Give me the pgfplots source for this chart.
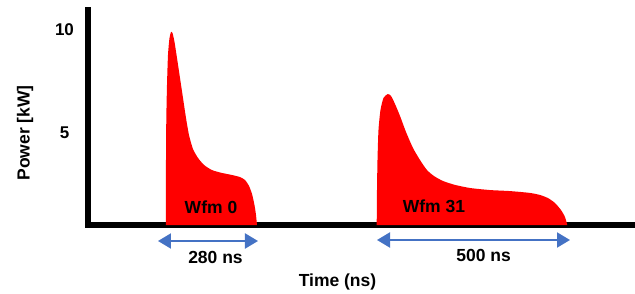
\documentclass[border=0pt]{standalone}
\usepackage{pgfplots}
\pgfplotsset{compat=1.18}
\usepackage{fontspec}
\setmainfont{Liberation Sans}
\usetikzlibrary{arrows.meta}
\definecolor{arrowblue}{HTML}{4472C4}
\begin{document}
\begin{tikzpicture}
\begin{axis}[
  x=1pt, y=20.6pt,
  xmin=88, xmax=632, ymin=0.53, ymax=10.97,
  axis x line=bottom, axis y line=left,
  axis line style={-, line width=5.7pt, line cap=rect, black},
  xtick=\empty,
  ytick={5,10}, yticklabels={5,10},
  major tick length=0pt,
  /pgf/number format/assume math mode=true,
  yticklabel style={font=\bfseries\fontsize{17}{20}\selectfont, anchor=center, xshift=-23.5pt},
  clip=false,
]
\path (axis cs:0,11.456) rectangle (axis cs:635,-2.816);
\addplot[draw=none, fill=red, smooth, tension=0.4] coordinates {
(166,0.53) (166,3.69) (166.3,5.63) (167,7.33) (168,8.79) (169.5,9.61) (171,9.90)
(172.5,9.85) (174.5,9.42) (177,8.64) (180,7.67) (183,6.70) (186,5.73) (189,4.90)
(193,4.22) (198,3.79) (204,3.45) (212,3.20) (222,3.06) (232,2.96) (240,2.86)
(245,2.72) (249,2.43) (252,2.04) (254.5,1.50) (256,1.02) (257,0.53)
};
\addplot[draw=none, fill=red, smooth, tension=0.4] coordinates {
(376.7,0.53) (377,2.23) (377.5,3.69) (378.5,5.15) (380.5,6.12) (383.5,6.70) (387.7,6.89)
(391,6.80) (395,6.41) (400,5.83) (406,5.05) (413,4.27) (420,3.69) (427,3.20)
(434,2.91) (443,2.67) (455,2.48) (470,2.33) (490,2.23) (510,2.18) (530,2.09)
(540,1.99) (548,1.84) (555,1.60) (561,1.26) (565,0.92) (567.3,0.53)
};
\node[font=\bfseries\fontsize{17.5}{21}\selectfont] at (axis cs:211,1.41) {Wfm 0};
\node[font=\bfseries\fontsize{17.5}{21}\selectfont] at (axis cs:434,1.46) {Wfm 31};
\draw[arrowblue, line width=2pt, {Triangle[length=13pt,width=15pt]}-{Triangle[length=13pt,width=15pt]}]
  (axis cs:158,-0.243) -- (axis cs:258,-0.243);
\draw[arrowblue, line width=2pt, {Triangle[length=13pt,width=15pt]}-{Triangle[length=13pt,width=15pt]}]
  (axis cs:377,-0.194) -- (axis cs:570,-0.194);
\node[font=\bfseries\fontsize{17.5}{21}\selectfont] at (axis cs:215.5,-1.053) {280 ns};
\node[font=\bfseries\fontsize{17.5}{21}\selectfont] at (axis cs:483.7,-0.922) {500 ns};
\node[font=\bfseries\fontsize{17.5}{21}\selectfont] at (axis cs:337.5,-2.233) {Time (ns)};
\node[font=\bfseries\fontsize{17.5}{21}\selectfont, rotate=90] at (axis cs:25,5.0) {Power [kW]};
\end{axis}
\end{tikzpicture}
\end{document}
